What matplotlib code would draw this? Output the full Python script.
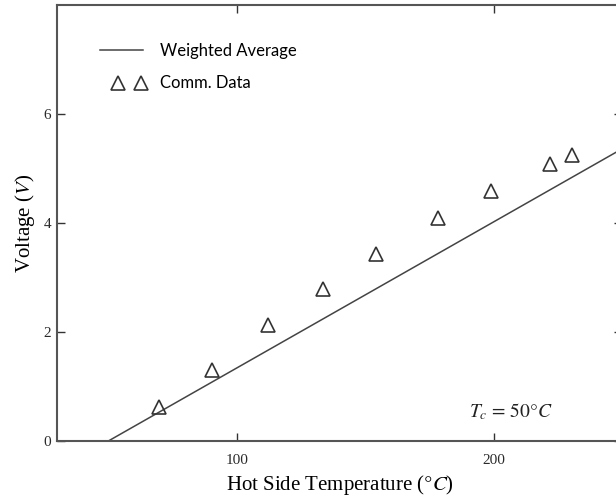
import numpy as np
import matplotlib
matplotlib.use('Agg')
import matplotlib.pyplot as plt
from matplotlib.legend_handler import HandlerLine2D

# data
avg_temp = [50, 250]          # weighted average line, hot side temperature (C)
avg_volt = [0, 5.36]          # voltage (V)

comm_temp = [69.7, 90.4, 112.2, 133.7, 154.3, 178.5, 199.1, 222.1, 230.7]
comm_volt = [0.62, 1.30, 2.13, 2.79, 3.43, 4.09, 4.59, 5.08, 5.25]

x_ticks = [100, 200]
y_ticks = [0, 2, 4, 6]


# legend handlers: line over the full handle, the two triangles to the right
class LineHandler(HandlerLine2D):
    def get_xdata(self, legend, xdescent, ydescent, width, height, fontsize):
        xdata = np.array([-xdescent, -xdescent + width])
        return xdata, xdata


class MarkerHandler(HandlerLine2D):
    def get_xdata(self, legend, xdescent, ydescent, width, height, fontsize):
        xmark = -xdescent + width * np.array([0.42, 0.95])
        return xmark, xmark


plt.rcParams['mathtext.fontset'] = 'stix'

fig = plt.figure(figsize=(6.16, 5.04), dpi=100)
ax = fig.add_axes([57 / 616, 63 / 504, 565 / 616, 436 / 504])

line, = ax.plot(avg_temp, avg_volt, color='#444444', lw=1.1, label='Weighted Average')
pts, = ax.plot(comm_temp, comm_volt, ls='none', marker='^', ms=10.5, mfc='none',
               mec='#333333', mew=1.2, label='Comm. Data')

ax.set_xlim(30, 250)
ax.set_ylim(0, 8)
ax.set_xticks(x_ticks)
ax.set_yticks(y_ticks)

for s in ax.spines.values():
    s.set_color('#555555')
    s.set_linewidth(1.5)

ax.tick_params(direction='in', length=6, width=1, color='#333333',
               top=True, right=True, labelsize=11, labelcolor='#2a2a2a')
ax.tick_params(axis='x', pad=9)
ax.tick_params(axis='y', pad=4)
for lab in ax.get_xticklabels() + ax.get_yticklabels():
    lab.set_family('Liberation Serif')

ax.set_xlabel(r'Hot Side Temperature ($\degree C$)', family='Liberation Serif',
              fontsize=15, labelpad=5)
ax.set_ylabel(r'Voltage ($V$)', family='Liberation Serif', fontsize=15, labelpad=5)

ax.text(0.73, 0.055, r'$T_c$ = 50°$C$', transform=ax.transAxes,
        fontsize=14, family='STIXGeneral', color='#222222')

leg = ax.legend(loc='upper left', bbox_to_anchor=(0.049, 0.948), frameon=False,
                numpoints=2, handlelength=2.58, handletextpad=1.05,
                labelspacing=1.0, prop={'family': 'Lato', 'size': 12},
                handler_map={line: LineHandler(), pts: MarkerHandler()})

fig.savefig('out.png', dpi=100)
